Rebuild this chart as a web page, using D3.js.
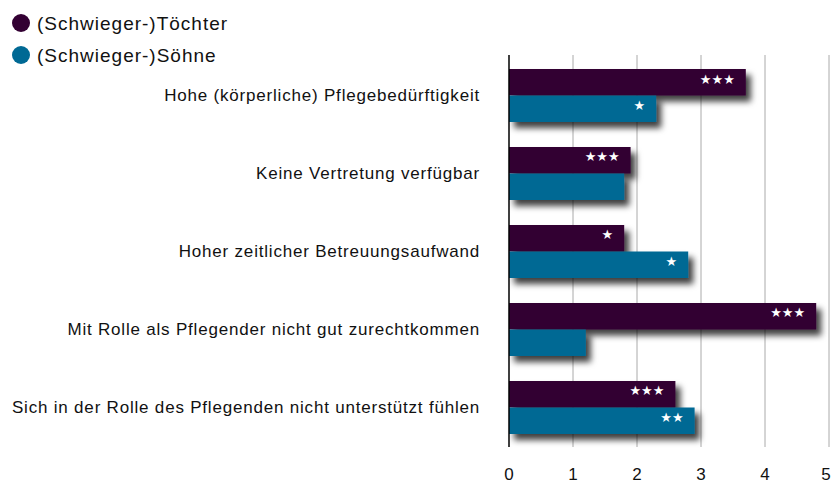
<!DOCTYPE html>
<html>
<head>
<meta charset="utf-8">
<script src="https://cdn.jsdelivr.net/npm/d3@7"></script>
<style>
  body { margin: 0; background: #fff; }
  svg { display: block; font-family: "Liberation Sans", Arial, Helvetica, sans-serif; }
</style>
</head>
<body>
<div id="chart"></div>
<script>
// data
var categories = [
  "Hohe (körperliche) Pflegebedürftigkeit",
  "Keine Vertretung verfügbar",
  "Hoher zeitlicher Betreuungsaufwand",
  "Mit Rolle als Pflegender nicht gut zurechtkommen",
  "Sich in der Rolle des Pflegenden nicht unterstützt fühlen"
];
var seriesNames = ["(Schwieger-)Töchter", "(Schwieger-)Söhne"];
var daughters = [3.7, 1.9, 1.8, 4.8, 2.6];
var sons = [2.3, 1.8, 2.8, 1.2, 2.9];
var daughtersSig = ["***", "***", "*", "***", "***"];
var sonsSig = ["*", "", "*", "", "**"];
var ticks = [0, 1, 2, 3, 4, 5];
var colors = ["#330033", "#006994"];

var width = 831, height = 486;

var svg = d3.select("#chart")
  .append("svg")
  .attr("width", width)
  .attr("height", height);

// drop shadow
var filter = svg.append("defs").append("filter")
  .attr("id", "shadow")
  .attr("x", "-10%").attr("y", "-30%")
  .attr("width", "130%").attr("height", "180%");
filter.append("feDropShadow")
  .attr("dx", 5)
  .attr("dy", 6)
  .attr("stdDeviation", 3)
  .attr("flood-color", "#000")
  .attr("flood-opacity", 0.75);

var x = d3.scaleLinear()
  .domain([0, 5])
  .range([509, 829]);

var y = d3.scaleBand()
  .domain(categories)
  .range([69, 434])
  .paddingInner(0.3205)
  .paddingOuter(0);

var sub = d3.scaleBand()
  .domain([0, 1])
  .range([0, y.bandwidth()]);

// grid lines
svg.append("g")
  .selectAll("line")
  .data(ticks.slice(1))
  .join("line")
  .attr("x1", d => x(d))
  .attr("x2", d => x(d))
  .attr("y1", 55)
  .attr("y2", 447)
  .attr("stroke", "#aaaaaa")
  .attr("stroke-width", 1);

// tick labels (last one pulled in so it is not clipped)
svg.append("g")
  .selectAll("text")
  .data(ticks)
  .join("text")
  .attr("x", d => Math.min(x(d), width - 5))
  .attr("y", 480)
  .attr("text-anchor", "middle")
  .attr("fill", "#111")
  .style("font-size", "17px")
  .text(d => d);

// bars
var rows = categories.map(function(c, i) {
  return [
    { cat: c, s: 0, v: daughters[i], sig: daughtersSig[i] },
    { cat: c, s: 1, v: sons[i], sig: sonsSig[i] }
  ];
});

var groups = svg.append("g")
  .selectAll("g")
  .data(rows)
  .join("g")
  .attr("transform", d => "translate(0," + y(d[0].cat) + ")");

groups.selectAll("rect")
  .data(d => d)
  .join("rect")
  .attr("x", x(0))
  .attr("y", d => sub(d.s))
  .attr("width", d => x(d.v) - x(0))
  .attr("height", sub.bandwidth())
  .attr("fill", d => colors[d.s])
  .attr("filter", "url(#shadow)");

// significance stars
groups.selectAll("text")
  .data(d => d.filter(e => e.sig !== ""))
  .join("text")
  .attr("x", d => x(d.v) - 11)
  .attr("y", d => sub(d.s) + 14.5)
  .attr("text-anchor", "end")
  .attr("fill", "#fff")
  .style("font-family", "DejaVu Sans, sans-serif")
  .style("font-size", "13px")
  .text(d => d.sig.replace(/\*/g, "★"));

// zero axis line
svg.append("line")
  .attr("x1", x(0))
  .attr("x2", x(0))
  .attr("y1", 55)
  .attr("y2", 447)
  .attr("stroke", "#000")
  .attr("stroke-width", 1.5);

// category labels
svg.append("g")
  .selectAll("text")
  .data(categories)
  .join("text")
  .attr("x", 480)
  .attr("y", d => y(d) + y.bandwidth() / 2)
  .attr("dy", "0.35em")
  .attr("text-anchor", "end")
  .attr("fill", "#111")
  .style("font-size", "17px")
  .style("letter-spacing", "0.8px")
  .text(d => d);

// legend
var legend = svg.append("g")
  .selectAll("g")
  .data(seriesNames)
  .join("g")
  .attr("transform", (d, i) => "translate(0," + (23 + i * 32) + ")");

legend.append("circle")
  .attr("cx", 21)
  .attr("cy", 0)
  .attr("r", 9)
  .attr("fill", (d, i) => colors[i]);

legend.append("text")
  .attr("x", 37)
  .attr("y", 7)
  .attr("fill", "#111")
  .style("font-size", "19px")
  .style("letter-spacing", "1px")
  .text(d => d);
</script>
</body>
</html>
